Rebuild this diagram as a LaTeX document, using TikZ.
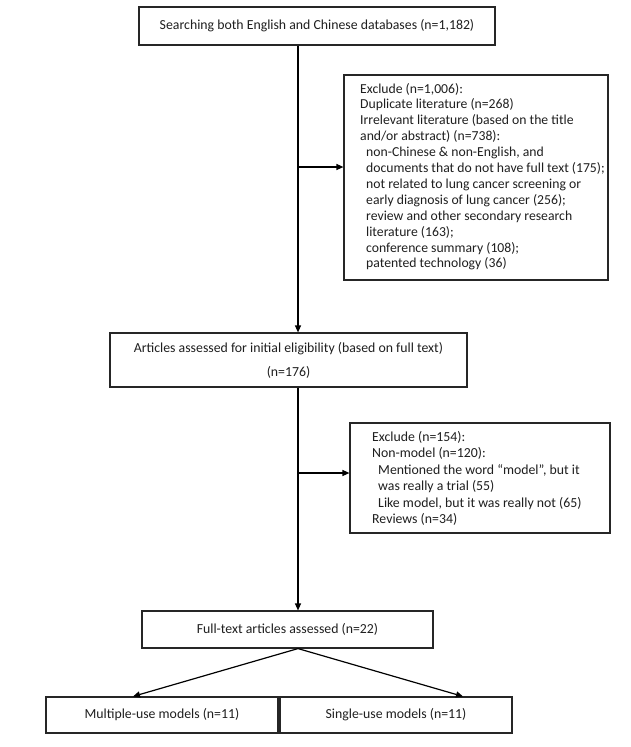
\documentclass[tikz,border=0pt]{standalone}
\usepackage{fontspec}
\setmainfont{Carlito}
\usetikzlibrary{arrows.meta}
\newcommand{\fsmain}{\fontsize{13.8}{15.9}\selectfont}
\newcommand{\fsexa}{\fontsize{13.7}{15.9}\selectfont}
\newcommand{\fsexb}{\fontsize{13.8}{16.5}\selectfont}
\begin{document}
\begin{tikzpicture}[x=1pt,y=-1pt,
  box/.style={draw=black!85, line width=1.15pt, rectangle, inner sep=0pt, font=\fsmain, align=center, text=black!88},
  txt/.style={inner sep=0pt, anchor=base west, text=black!88},
  arr/.style={draw=black, line width=1.2pt, -{Triangle[length=7pt,width=6pt]}}]
\useasboundingbox (0,0) rectangle (630,747);
\fill[white] (0,0) rectangle (630,747);
\coordinate (spine) at (298,0);
\coordinate (j1) at (298,167);
\coordinate (j2) at (298,473);

\node[box, minimum width=356pt, minimum height=38pt] (b1) at (317,26) {Searching both English and Chinese databases (n=1,182)};
\node[box, minimum width=264pt, minimum height=205pt] (ex1) at (476,177.5) {};
\node[txt] (ex1t) at (360,93) {\fsexa\begin{tabular}[t]{@{}l@{}}
Exclude (n=1,006):\\
Duplicate literature (n=268)\\
Irrelevant literature (based on the title\\
and/or abstract) (n=738):\\
\hspace*{6pt}non-Chinese \& non-English, and\\
\hspace*{6pt}documents that do not have full text (175);\\
\hspace*{6pt}not related to lung cancer screening or\\
\hspace*{6pt}early diagnosis of lung cancer (256);\\
\hspace*{6pt}review and other secondary research\\
\hspace*{6pt}literature (163);\\
\hspace*{6pt}conference summary (108);\\
\hspace*{6pt}patented technology (36)
\end{tabular}};

\node[box, minimum width=357pt, minimum height=54pt] (b2) at (288.5,360) {Articles assessed for initial eligibility (based on full text)\\[8pt](n=176)};
\node[box, minimum width=260pt, minimum height=110pt] (ex2) at (480,478) {};
\node[txt] (ex2t) at (372,441) {\fsexb\begin{tabular}[t]{@{}l@{}}
Exclude (n=154):\\
Non-model (n=120):\\
\hspace*{6pt}Mentioned the word ``model'', but it\\
\hspace*{6pt}was really a trial (55)\\
\hspace*{6pt}Like model, but it was really not (65)\\
Reviews (n=34)
\end{tabular}};

\node[box, minimum width=291pt, minimum height=37pt] (b3) at (287.5,629.5) {Full-text articles assessed (n=22)};
\node[box, minimum width=232pt, minimum height=36pt] (b4) at (162,715) {Multiple-use models (n=11)};
\node[box, minimum width=232pt, minimum height=36pt] (b5) at (396,715) {Single-use models (n=11)};

\draw[arr] (b1.south -| spine) -- (b2.north -| spine);
\draw[arr] (j1) -- (j1 -| ex1.west);
\draw[arr] (b2.south -| spine) -- (b3.north -| spine);
\draw[arr] (j2) -- (j2 -| ex2.west);
\draw[arr] (b3.south -| spine) -- ([xshift=-29pt]b4.north);
\draw[arr] (b3.south -| spine) -- ([xshift=67pt]b5.north);
\end{tikzpicture}
\end{document}
